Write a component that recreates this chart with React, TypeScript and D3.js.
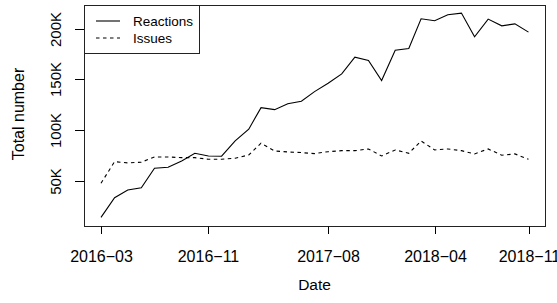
import { scaleLinear, scaleUtc, line } from "d3";

// monthly, 2016-03 .. 2018-11
const startMonth = Date.UTC(2016, 2, 1);
const months = Array.from({ length: 33 }, (_, i) => new Date(Date.UTC(2016, 2 + i, 1)));

const reactions = [
  13.8, 33.2, 40.8, 43.0, 62.2, 63.2, 69.5, 77.0, 74.4, 74.1, 89.2,
  100.8, 122.1, 120.1, 126.0, 128.4, 137.9, 146.2, 155.4, 171.9, 168.6,
  148.8, 178.8, 180.4, 209.8, 207.8, 213.7, 215.4, 192.0, 209.5, 202.8,
  204.8, 196.6,
].map((v) => v * 1000);

const issues = [
  47.4, 68.8, 67.5, 68.2, 73.4, 73.4, 72.7, 72.7, 71.1, 71.1, 72.1,
  75.4, 87.0, 79.3, 78.3, 77.7, 76.7, 78.6, 79.6, 79.6, 81.3,
  74.4, 80.3, 77.0, 89.2, 80.3, 81.3, 79.6, 76.4, 81.3, 75.1,
  76.4, 71.1,
].map((v) => v * 1000);

const xTicks = ["2016-03", "2016-11", "2017-08", "2018-04", "2018-11"];
const yTicks = [50000, 100000, 150000, 200000];
const seriesNames = ["Reactions", "Issues"];

const font = "'Liberation Sans', Arial, Helvetica, sans-serif";

export default function App() {
  const width = 557;
  const height = 303;
  const box = { left: 84.5, right: 545.5, top: 5.5, bottom: 226.5 };

  const x = scaleUtc()
    .domain([new Date(startMonth), months[months.length - 1]])
    .range([101, 528.5]);
  const y = scaleLinear().domain([0, 200000]).range([231.3, 28.7]);

  const path = (vals: number[]) =>
    line<number>()
      .x((_, i) => x(months[i]))
      .y((d) => y(d))(vals) ?? "";

  const tickDate = (s: string) => {
    const [yy, mm] = s.split("-").map(Number);
    return new Date(Date.UTC(yy, mm - 1, 1));
  };

  return (
    <svg
      width={width}
      height={height}
      style={{ position: "fixed", left: 0, top: 0, background: "#fff" }}
      fontFamily={font}
    >
      {/* plot box */}
      <rect
        x={box.left}
        y={box.top}
        width={box.right - box.left}
        height={box.bottom - box.top}
        fill="none"
        stroke="#222"
        strokeWidth={1}
      />

      {/* series */}
      <path d={path(reactions)} fill="none" stroke="#000" strokeWidth={1.1} />
      <path
        d={path(issues)}
        fill="none"
        stroke="#000"
        strokeWidth={1.1}
        strokeDasharray="3.5,3.5"
      />

      {/* x axis */}
      {xTicks.map((t) => {
        const px = Math.round(x(tickDate(t))) + 0.5;
        return (
          <g key={t}>
            <line x1={px} x2={px} y1={box.bottom} y2={234} stroke="#000" />
            <text x={px} y={262} textAnchor="middle" fontSize={16} fill="#000">
              {t.replace("-", "\u2212")}
            </text>
          </g>
        );
      })}

      {/* y axis */}
      {yTicks.map((v) => {
        const py = Math.round(y(v)) + 0.5;
        return (
          <g key={v}>
            <line x1={75} x2={box.left} y1={py} y2={py} stroke="#000" />
            <text
              transform={`translate(61,${py}) rotate(-90)`}
              textAnchor="middle"
              fontSize={15}
              fill="#000"
            >
              {`${v / 1000}K`}
            </text>
          </g>
        );
      })}

      {/* axis titles */}
      <text x={314.5} y={290} textAnchor="middle" fontSize={15.5} fill="#000">
        Date
      </text>
      <text
        transform="translate(23.5,114) rotate(-90)"
        textAnchor="middle"
        fontSize={16}
        fill="#000"
      >
        Total number
      </text>

      {/* legend */}
      <rect
        x={box.left}
        y={box.top}
        width={115}
        height={48}
        fill="#fff"
        stroke="#222"
      />
      {seriesNames.map((name, i) => {
        const ly = 21 + i * 17;
        return (
          <g key={name}>
            <line
              x1={96}
              x2={120}
              y1={ly}
              y2={ly}
              stroke="#000"
              strokeWidth={1.1}
              strokeDasharray={i === 1 ? "3.5,3.5" : undefined}
            />
            <text x={133} y={ly + 5} fontSize={13.5} fill="#000">
              {name}
            </text>
          </g>
        );
      })}
    </svg>
  );
}
